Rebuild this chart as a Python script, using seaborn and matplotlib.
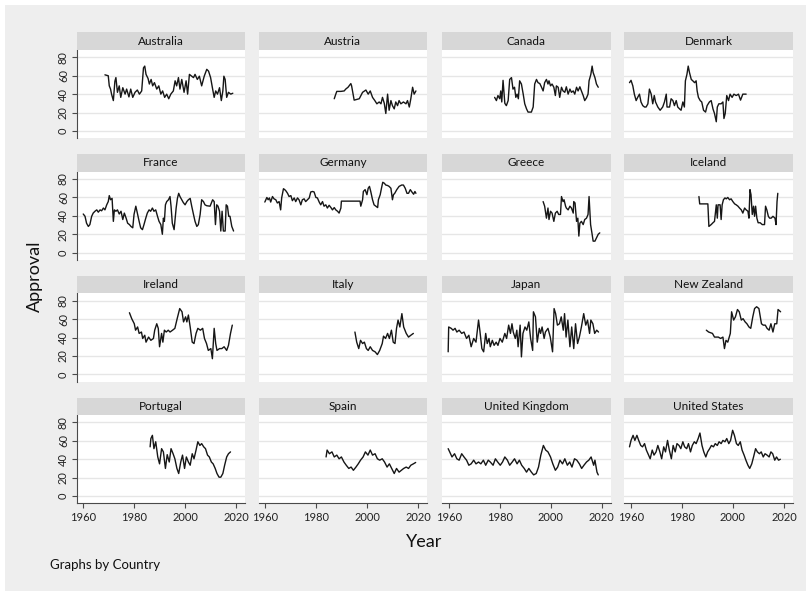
import matplotlib
matplotlib.use("Agg")
import matplotlib.pyplot as plt
import pandas as pd
import seaborn as sns
from matplotlib.patches import Rectangle

COUNTRIES = ["Australia", "Austria", "Canada", "Denmark",
             "France", "Germany", "Greece", "Iceland",
             "Ireland", "Italy", "Japan", "New Zealand",
             "Portugal", "Spain", "United Kingdom", "United States"]

X_TICKS = [1960, 1980, 2000, 2020]
Y_TICKS = [0, 20, 40, 60, 80]

AUS_YEAR = [1968.6, 1969.9, 1970.3, 1970.8, 1971.2, 1971.9, 1972.5, 1972.9, 1973.5, 1974.2,
            1974.8, 1975.6, 1976.5, 1977.1, 1978.0, 1978.7, 1979.5, 1980.4, 1981.3, 1982.1,
            1983.0, 1983.7, 1984.2, 1984.7, 1985.5, 1986.0, 1986.7, 1987.3, 1988.0, 1988.9,
            1989.7, 1990.5, 1991.2, 1992.0, 1992.8, 1993.6, 1994.4, 1995.4, 1996.1, 1996.7,
            1997.4, 1998.0, 1998.7, 1999.6, 2000.4, 2001.0, 2001.7, 2002.6, 2003.3, 2003.9,
            2004.8, 2005.6, 2006.5, 2007.5, 2008.5, 2009.2, 2010.0, 2010.8, 2011.4, 2012.0,
            2012.7, 2013.5, 2014.2, 2014.8, 2015.2, 2015.7, 2016.3, 2017.0, 2017.9, 2018.7]
AUS_VAL = [61, 60, 49, 45.5, 40, 33, 54, 58, 42, 49,
           36.5, 47, 40, 45.5, 37, 45.5, 36.5, 42, 44.5, 40,
           43.5, 68.5, 70.5, 61.5, 57, 51, 56, 49, 52.5, 45.5,
           49, 40, 43.5, 36.5, 40, 35, 40, 43.5, 54.5, 49,
           58, 45.5, 56, 42, 54.5, 40, 61.5, 59.5, 58, 61.5,
           56, 59.5, 49, 59.5, 67, 65, 58, 45.5, 36.5, 43.5,
           40, 47, 33, 43.5, 59.5, 56, 36.5, 42, 40, 41]

AUT_YEAR = [1987.1, 1987.7, 1988.1, 1989.7, 1991.0, 1991.6, 1992.5, 1993.6, 1993.9, 1994.9,
            1996.9, 1998.2, 1999.5, 2000.4, 2001.2, 2002.1, 2003.0, 2003.8, 2004.7, 2005.4,
            2006.0, 2006.7, 2007.3, 2008.0, 2008.6, 2009.3, 2009.9, 2010.6, 2011.2, 2011.9,
            2012.5, 2013.2, 2014.2, 2015.2, 2015.8, 2016.5, 2017.1, 2017.8, 2018.4, 2019.1]
AUT_VAL = [35, 40, 43, 43, 43.5, 45.5, 47.5, 51.5, 49, 33.5,
           35, 42, 44.5, 40, 43.5, 36.5, 33, 29.5, 31.5, 29.5,
           36.5, 30, 19, 40, 22.5, 33, 27.5, 24, 31.5, 27.5,
           33, 29.5, 31.5, 29.5, 33, 26, 35, 47.5, 40, 43.5]

CAN_YEAR = [1978.0, 1978.7, 1979.3, 1980.0, 1980.4, 1980.8, 1981.3, 1982.0, 1982.6, 1983.3,
            1983.9, 1984.6, 1985.2, 1985.8, 1986.3, 1986.8, 1987.3, 1987.8, 1988.5, 1989.2,
            1989.8, 1990.5, 1991.1, 1992.4, 1993.1, 1993.7, 1994.4, 1995.0, 1995.7, 1996.3,
            1997.0, 1997.6, 1998.3, 1998.9, 1999.3, 1999.9, 2000.5, 2001.2, 2001.8, 2002.2,
            2002.9, 2003.5, 2004.2, 2004.8, 2005.5, 2006.1, 2006.8, 2007.5, 2008.1, 2008.8,
            2009.4, 2010.1, 2010.7, 2011.4, 2012.0, 2012.7, 2013.3, 2014.0, 2014.6, 2015.0,
            2015.7, 2016.2, 2016.6, 2017.3, 2017.9, 2018.6]
CAN_VAL = [36.5, 33, 38.5, 35, 43.5, 31.5, 55, 30, 27.5, 33,
           56, 58, 45.5, 47.5, 36.5, 40, 35, 54.5, 51, 40,
           29.5, 24, 20.5, 20.5, 26, 51, 56, 52.5, 51.5, 48,
           43.5, 52.5, 56, 51, 54.5, 49, 51, 47.5, 38.5, 49,
           47.5, 36.5, 47.5, 43.5, 42, 48, 40, 45.5, 42, 43.5,
           40, 47.5, 43.5, 48, 43.5, 38.5, 33, 36, 40, 54.5,
           61.5, 70.5, 63.5, 58, 51, 47.5]

DNK_YEAR = [1959.5, 1960.1, 1960.8, 1961.4, 1962.1, 1962.7, 1963.4, 1964.0, 1964.7, 1965.4,
            1966.0, 1966.7, 1967.3, 1968.0, 1968.6, 1969.2, 1969.7, 1970.6, 1971.5, 1972.5,
            1973.2, 1973.9, 1974.2, 1975.2, 1975.8, 1976.5, 1977.1, 1977.8, 1978.4, 1979.1,
            1979.7, 1980.4, 1981.0, 1981.4, 1982.0, 1982.5, 1983.0, 1983.7, 1984.3, 1985.0,
            1985.6, 1986.0, 1986.5, 1987.2, 1987.8, 1988.5, 1989.3, 1989.9, 1990.8, 1991.5,
            1992.2, 1992.8, 1993.5, 1993.9, 1994.5, 1995.4, 1996.1, 1996.5, 1997.0, 1997.6,
            1998.3, 1998.9, 1999.7, 2000.4, 2001.3, 2002.2, 2003.0, 2003.9, 2005.2]
DNK_VAL = [52.5, 55, 49, 40, 33, 36.5, 40, 31.5, 27.5, 26,
           26, 29.5, 45.5, 40, 29.5, 38.5, 31.5, 26, 22.5, 26,
           31.5, 40, 26, 26, 35, 33, 27.5, 33, 26, 24,
           22.5, 31.5, 26, 54.5, 61.5, 70.5, 63.5, 56, 54.5, 52.5,
           54.5, 43.5, 36.5, 33, 31.5, 22.5, 20.5, 27.5, 31.5, 33,
           24, 19, 10, 26, 29.5, 29.5, 31.5, 13.5, 19, 38.5,
           33, 40, 36.5, 40, 38.5, 40, 33.5, 40, 40]

FRA_YEAR = [1960.1, 1960.8, 1961.4, 1962.1, 1962.7, 1963.4, 1964.0, 1964.7, 1965.4, 1966.0,
            1966.7, 1967.3, 1968.0, 1968.6, 1969.3, 1969.9, 1970.3, 1970.8, 1971.4, 1971.9,
            1972.3, 1972.9, 1973.5, 1974.2, 1974.9, 1975.6, 1976.2, 1976.9, 1977.5, 1978.2,
            1978.8, 1979.5, 1980.0, 1980.7, 1981.3, 1982.0, 1982.6, 1983.3, 1983.9, 1984.6,
            1985.2, 1985.9, 1986.5, 1987.2, 1987.8, 1988.5, 1989.2, 1989.8, 1990.5, 1991.1,
            1991.5, 1991.9, 1992.3, 1992.8, 1993.5, 1994.1, 1994.5, 1995.0, 1995.7, 1996.5,
            1997.0, 1997.5, 1998.0, 1998.7, 1999.3, 2000.0, 2000.7, 2001.3, 2002.0, 2002.6,
            2003.3, 2003.9, 2004.6, 2005.2, 2005.9, 2006.5, 2007.2, 2007.8, 2008.5, 2009.8,
            2010.8, 2011.4, 2011.9, 2012.4, 2012.9, 2013.5, 2014.0, 2014.5, 2015.0, 2015.7,
            2016.1, 2016.6, 2017.1, 2017.6, 2018.3, 2019.0]
FRA_VAL = [42, 39.5, 32, 28.5, 30.5, 39.5, 43, 45, 46.5, 44,
           46.5, 45.5, 48.5, 46.5, 52, 55.5, 62, 57.5, 59, 34,
           46.5, 45, 46.5, 42, 45, 36, 43, 37.5, 32, 30.5,
           28.5, 27, 41.5, 50.5, 43, 34, 27, 25, 30.5, 37.5,
           43, 46.5, 45, 48.5, 45, 46.5, 39.5, 34, 30.5, 20,
           37.5, 34, 52, 55.5, 57.5, 61, 50.5, 32, 25, 48.5,
           59, 64.5, 61, 57.5, 54.5, 52, 55.5, 57.5, 59, 50.5,
           41.5, 34, 28.5, 30.5, 41.5, 57.5, 55.5, 52, 51, 50.5,
           57.5, 55.5, 30.5, 52, 50.5, 45, 23.5, 45, 23.5, 23.5,
           52, 50.5, 39.5, 39.5, 28.5, 23.5]

GER_YEAR = [1959.9, 1960.7, 1961.2, 1961.7, 1962.2, 1962.9, 1963.5, 1964.2, 1964.8, 1965.5,
            1966.1, 1966.5, 1967.2, 1967.7, 1968.2, 1968.8, 1969.4, 1970.1, 1970.7, 1971.4,
            1972.0, 1972.7, 1973.3, 1974.0, 1974.6, 1975.3, 1975.9, 1976.6, 1977.3, 1977.9,
            1978.6, 1979.2, 1979.9, 1980.5, 1981.2, 1981.8, 1982.5, 1983.1, 1983.8, 1984.4,
            1985.1, 1985.8, 1986.4, 1987.1, 1987.7, 1988.4, 1989.0, 1989.7, 1989.9, 1997.2,
            1997.5, 1998.2, 1998.5, 1999.2, 1999.9, 2000.4, 2000.9, 2001.4, 2002.1, 2002.7,
            2003.4, 2004.1, 2004.4, 2005.1, 2005.6, 2006.1, 2006.7, 2007.3, 2008.0, 2008.6,
            2009.3, 2009.9, 2010.3, 2010.8, 2011.6, 2012.5, 2013.5, 2014.2, 2014.9, 2015.6,
            2016.2, 2016.9, 2017.5, 2018.2, 2018.7, 2019.1]
GER_VAL = [55, 60, 57.5, 59.5, 55, 61, 58.5, 57.5, 54, 55.5,
           46.5, 59.5, 69.5, 68.5, 67, 64.5, 61, 62, 56.5, 59.5,
           55.5, 59.5, 57.5, 52, 57.5, 58.5, 55.5, 57.5, 59.5, 66,
           66.5, 66, 60, 59.5, 55, 52, 55.5, 50.5, 52, 48.5,
           51.5, 49, 46.5, 49, 46.5, 45, 43, 48.5, 56, 56,
           50.5, 57.5, 66.5, 68.5, 63, 70, 72, 66.5, 57.5, 52,
           50.5, 49, 57.5, 63, 70, 76.5, 75.5, 73.5, 73, 72,
           70, 57.5, 63, 64.5, 68.5, 72, 73.5, 73.5, 70, 64.5,
           64.5, 68.5, 66, 63.5, 66.5, 64.5]

GRC_YEAR = [1997.0, 1997.6, 1998.3, 1998.9, 1999.3, 1999.9, 2000.5, 2001.2, 2001.8, 2002.5,
            2003.1, 2003.8, 2004.2, 2004.8, 2005.2, 2005.8, 2006.1, 2006.8, 2007.5, 2008.1,
            2008.8, 2009.0, 2009.5, 2010.1, 2010.6, 2011.0, 2011.4, 2012.0, 2012.7, 2013.3,
            2014.0, 2014.6, 2015.0, 2015.6, 2016.2, 2016.6, 2017.3, 2017.9, 2018.6, 2019.2]
GRC_VAL = [55.5, 50.5, 37.5, 48.5, 36, 45, 43, 34, 43, 45,
           41.5, 41.5, 61, 55.5, 57.5, 50.5, 48.5, 46.5, 50.5, 48.5,
           43, 55.5, 54, 34, 37.5, 18, 32, 34, 30.5, 36,
           37.5, 41.5, 61, 30.5, 20, 12.5, 12.5, 16, 20, 21.5]

ISL_YEAR = [1986.7, 1987.0, 1990.2, 1990.6, 1991.5, 1992.2, 1992.8, 1993.5, 1993.9, 1994.2,
            1995.0, 1995.4, 1995.8, 1996.3, 1996.9, 1997.4, 1998.0, 1998.7, 1999.3, 2000.0,
            2000.7, 2001.3, 2002.0, 2002.6, 2003.3, 2003.9, 2004.6, 2005.2, 2005.9, 2006.3,
            2006.7, 2007.1, 2007.6, 2008.1, 2008.5, 2008.9, 2009.4, 2009.9, 2010.7, 2011.5,
            2012.4, 2012.8, 2013.3, 2013.9, 2014.4, 2015.0, 2015.7, 2016.5, 2016.9, 2017.3,
            2017.6]
ISL_VAL = [61, 53, 53, 28.5, 30.5, 32.5, 34, 52, 37.5, 52,
           52, 36, 52, 57.5, 59.5, 58.5, 60, 57.5, 58.5, 55.5,
           53, 52, 50.5, 48.5, 46.5, 43, 48.5, 46.5, 45, 37.5,
           68.5, 63, 41.5, 50.5, 39.5, 50.5, 37.5, 32.5, 32.5, 30.5,
           30.5, 50.5, 46.5, 39.5, 37.5, 37.5, 39.5, 37.5, 30.5, 55.5,
           64.5]

IRL_YEAR = [1978.2, 1979.1, 1980.1, 1980.6, 1981.4, 1982.0, 1982.9, 1983.4, 1984.2, 1984.7,
            1985.7, 1986.6, 1987.6, 1988.1, 1988.9, 1989.5, 1990.0, 1990.8, 1991.3, 1991.9,
            1992.6, 1993.4, 1994.1, 1995.1, 1996.0, 1996.9, 1997.9, 1998.8, 1999.4, 2000.2,
            2000.7, 2001.3, 2002.0, 2002.8, 2003.5, 2004.3, 2005.0, 2006.0, 2006.9, 2007.6,
            2008.4, 2009.1, 2010.1, 2010.7, 2011.4, 2012.0, 2012.5, 2013.5, 2014.4, 2015.3,
            2016.3, 2017.0, 2017.8, 2018.5]
IRL_VAL = [67, 60.5, 55, 48, 51.5, 44.5, 46, 39, 42.5, 35,
           40.5, 37, 39, 48, 55, 50, 30, 44.5, 35, 48,
           46, 48, 46, 48, 50, 60.5, 71.5, 68, 57, 62.5,
           57, 64.5, 51.5, 35, 33.5, 44.5, 50, 48, 50, 39,
           33.5, 26, 28, 17, 50, 33.5, 26, 28, 28, 30,
           26, 31.5, 44.5, 53.5]

ITA_YEAR = [1995.2, 1995.9, 1996.7, 1997.4, 1998.2, 1998.9, 1999.7, 2000.4, 2001.2, 2002.1,
            2003.1, 2004.0, 2004.9, 2005.9, 2006.4, 2007.2, 2008.0, 2008.7, 2009.5, 2010.2,
            2010.9, 2011.5, 2012.1, 2012.8, 2013.6, 2014.3, 2015.3, 2016.2, 2017.1, 2018.1]
ITA_VAL = [46, 35, 28, 37, 33.5, 35, 28, 26, 30, 26,
           24.5, 21.5, 26, 33.5, 41.5, 39, 44.5, 39, 48, 35,
           33.5, 50, 59, 51.5, 66, 51.5, 44.5, 40.5, 42.5, 44.5]

JPN_YEAR = [1959.8, 1960.0, 1961.0, 1961.7, 1962.5, 1963.2, 1964.1, 1965.1, 1966.0, 1967.0,
            1967.9, 1968.8, 1969.8, 1970.7, 1971.7, 1972.2, 1973.0, 1973.7, 1974.5, 1975.1,
            1975.8, 1976.3, 1977.1, 1977.8, 1978.6, 1979.3, 1980.1, 1981.0, 1982.0, 1982.7,
            1983.5, 1984.2, 1984.8, 1985.3, 1986.1, 1986.7, 1987.2, 1988.0, 1988.5, 1989.1,
            1989.9, 1990.6, 1991.4, 1992.1, 1992.9, 1993.2, 1994.0, 1994.7, 1995.5, 1996.0,
            1996.6, 1997.4, 1997.9, 1998.9, 1999.8, 2000.7, 2001.3, 2001.9, 2002.6, 2003.4,
            2004.1, 2004.9, 2005.4, 2006.0, 2006.7, 2007.5, 2008.2, 2009.0, 2009.7, 2010.5,
            2011.2, 2012.0, 2012.9, 2013.7, 2014.4, 2015.2, 2015.7, 2016.5, 2017.2, 2018.0,
            2018.7]
JPN_VAL = [24.5, 51.5, 50, 48, 50, 46, 48, 44.5, 46, 39,
           42.5, 30, 39, 35, 59, 48, 28, 24.5, 44.5, 33.5,
           39, 30, 37, 31.5, 35, 31.5, 39, 35, 44.5, 39,
           53.5, 44.5, 55, 46, 39, 48, 30, 53.5, 19, 44.5,
           51.5, 48, 57, 39, 26, 68, 62.5, 35, 50, 44.5,
           51.5, 39, 46, 50, 40.5, 24.5, 71.5, 66, 53.5, 55,
           62.5, 48, 66, 40.5, 59, 30, 51.5, 28, 55, 33.5,
           40.5, 51.5, 66, 53.5, 59, 44.5, 59, 55, 44.5, 48,
           46]

NZL_YEAR = [1989.6, 1990.5, 1992.0, 1992.8, 1994.3, 1995.2, 1996.1, 1996.7, 1997.3, 1998.0,
            1999.0, 1999.5, 2000.3, 2001.0, 2001.8, 2002.5, 2003.3, 2004.0, 2004.8, 2005.5,
            2006.3, 2007.0, 2007.8, 2008.5, 2009.3, 2010.2, 2011.2, 2011.9, 2012.7, 2013.4,
            2014.2, 2014.9, 2015.7, 2016.4, 2017.2, 2017.7, 2018.7]
NZL_VAL = [48, 46, 44.5, 40.5, 40.5, 39, 40.5, 28, 37, 35,
           44.5, 68, 59, 62.5, 70.5, 68, 59, 60.5, 57, 55,
           51.5, 50, 62.5, 71.5, 73.5, 71.5, 55, 53.5, 53.5, 50,
           48, 55, 46, 55, 55, 70.5, 68]

PRT_YEAR = [1986.3, 1986.6, 1987.2, 1987.8, 1988.5, 1989.3, 1990.0, 1990.8, 1991.5, 1992.3,
            1993.0, 1993.8, 1994.5, 1995.3, 1996.0, 1996.8, 1997.5, 1998.3, 1999.0, 1999.8,
            2000.5, 2001.3, 2002.0, 2002.8, 2003.5, 2004.3, 2005.0, 2005.8, 2006.5, 2007.3,
            2008.0, 2008.8, 2009.5, 2010.3, 2011.0, 2011.8, 2012.5, 2013.3, 2014.0, 2014.8,
            2015.5, 2016.3, 2017.0, 2017.8]
PRT_VAL = [53.5, 62.5, 66, 51.5, 59, 42.5, 35, 51.5, 48, 30,
           45, 37, 51.5, 46, 40.5, 30, 24.5, 37, 44.5, 30,
           42.5, 37, 33.5, 46, 40.5, 50, 59, 55, 57, 53.5,
           51.5, 44.5, 42.5, 37, 35, 30, 24.5, 20.5, 20.5, 24.5,
           33.5, 42.5, 46, 48]

ESP_YEAR = [1983.9, 1984.3, 1985.2, 1986.2, 1987.1, 1988.1, 1989.0, 1989.9, 1990.9, 1991.8,
            1992.8, 1993.7, 1994.6, 1995.6, 1996.5, 1997.4, 1998.4, 1999.3, 2000.3, 2001.2,
            2002.1, 2003.1, 2004.0, 2004.9, 2005.9, 2006.8, 2007.8, 2008.7, 2009.6, 2010.6,
            2011.5, 2012.5, 2013.4, 2014.3, 2015.3, 2016.2, 2017.1, 2018.1, 2019.0]
ESP_VAL = [42.5, 50, 46, 48, 42.5, 44.5, 40.5, 42.5, 37, 33.5,
           30, 31.5, 28, 31.5, 35, 39, 42.5, 48, 44.5, 50,
           44.5, 46, 40.5, 39, 40.5, 37, 31.5, 35, 30, 24.5,
           30, 26, 28, 30, 31.5, 30, 33.5, 35, 36.5]

GBR_YEAR = [1959.8, 1960.4, 1961.3, 1962.3, 1963.2, 1964.1, 1965.1, 1966.0, 1967.0, 1967.9,
            1968.8, 1969.8, 1970.7, 1971.7, 1972.6, 1973.6, 1974.5, 1975.5, 1976.3, 1977.4,
            1978.3, 1979.2, 1980.2, 1981.1, 1982.0, 1983.0, 1983.9, 1984.9, 1985.8, 1986.8,
            1987.7, 1988.6, 1989.6, 1990.5, 1991.4, 1992.4, 1993.3, 1994.3, 1995.2, 1996.1,
            1997.1, 1998.0, 1998.9, 1999.9, 2000.8, 2001.8, 2002.7, 2003.6, 2004.6, 2005.5,
            2006.5, 2007.4, 2008.3, 2009.3, 2010.2, 2011.2, 2012.1, 2013.0, 2014.0, 2014.9,
            2015.8, 2016.8, 2017.3, 2018.1, 2018.6]
GBR_VAL = [51.5, 48, 42.5, 46, 40.5, 39, 46, 42.5, 39, 33.5,
           35, 39, 35, 37, 35, 39, 33.5, 39, 37, 33.5,
           40.5, 37, 33.5, 37, 42.5, 39, 33.5, 37, 40.5, 35,
           39, 33.5, 30, 26, 30, 26, 23, 24.5, 31.5, 44.5,
           55, 50, 48, 42.5, 35, 28, 31.5, 39, 35, 40.5,
           33.5, 37, 31.5, 40.5, 39, 35, 30, 33.5, 37, 39,
           42.5, 33.5, 39, 26, 23]

USA_YEAR = [1959.5, 1960.1, 1960.9, 1961.6, 1962.4, 1963.1, 1963.9, 1964.6, 1965.4, 1966.1,
            1966.9, 1967.6, 1968.4, 1969.1, 1969.9, 1970.6, 1971.4, 1972.1, 1972.9, 1973.6,
            1974.4, 1975.1, 1975.9, 1976.6, 1977.4, 1978.1, 1978.9, 1979.6, 1980.4, 1981.1,
            1981.9, 1982.6, 1983.4, 1984.1, 1984.9, 1985.6, 1986.4, 1987.1, 1987.9, 1988.6,
            1989.4, 1990.1, 1990.9, 1991.6, 1992.4, 1993.1, 1993.9, 1994.6, 1995.4, 1996.1,
            1996.9, 1997.6, 1998.4, 1999.1, 1999.9, 2000.6, 2001.4, 2002.1, 2002.9, 2003.6,
            2004.4, 2005.1, 2005.9, 2006.6, 2007.4, 2008.1, 2008.9, 2009.6, 2010.4, 2011.1,
            2011.9, 2012.6, 2013.4, 2014.2, 2014.9, 2015.6, 2016.4, 2017.1, 2017.9, 2018.6]
USA_VAL = [53.5, 60.5, 66, 60.5, 66, 60.5, 55, 53.5, 57, 50,
           45, 40.5, 50, 44.5, 48, 55, 48, 40.5, 53.5, 48,
           60.5, 50, 40.5, 55, 48, 57, 55, 51.5, 59, 53.5,
           51.5, 57, 48, 55, 59, 57, 62.5, 68.5, 55, 48,
           42.5, 48, 51.5, 55, 53.5, 57, 55, 59, 57, 60.5,
           59, 62.5, 57, 60.5, 71.5, 66, 57, 55, 59, 50,
           44.5, 39, 33.5, 30, 35, 42.5, 51.5, 48, 46, 48,
           42.5, 46, 44.5, 42.5, 48, 46, 39, 42.5, 39, 40]

SERIES = {
    "Australia": (AUS_YEAR, AUS_VAL), "Austria": (AUT_YEAR, AUT_VAL),
    "Canada": (CAN_YEAR, CAN_VAL), "Denmark": (DNK_YEAR, DNK_VAL),
    "France": (FRA_YEAR, FRA_VAL), "Germany": (GER_YEAR, GER_VAL),
    "Greece": (GRC_YEAR, GRC_VAL), "Iceland": (ISL_YEAR, ISL_VAL),
    "Ireland": (IRL_YEAR, IRL_VAL), "Italy": (ITA_YEAR, ITA_VAL),
    "Japan": (JPN_YEAR, JPN_VAL), "New Zealand": (NZL_YEAR, NZL_VAL),
    "Portugal": (PRT_YEAR, PRT_VAL), "Spain": (ESP_YEAR, ESP_VAL),
    "United Kingdom": (GBR_YEAR, GBR_VAL), "United States": (USA_YEAR, USA_VAL),
}

records = []
for country in COUNTRIES:
    years, values = SERIES[country]
    for yr, val in zip(years, values, strict=True):
        records.append((country, yr, val))
df = pd.DataFrame(records, columns=["Country", "Year", "Approval"])

sns.set_theme(style="white")
plt.rcParams["font.family"] = ["Lato", "DejaVu Sans"]

W, H = 811, 593
g = sns.relplot(data=df, x="Year", y="Approval", col="Country", col_order=COUNTRIES,
                col_wrap=4, kind="line", estimator=None, sort=False,
                color="#161616", linewidth=1.0, height=2, aspect=1.4,
                facet_kws=dict(sharex=True, sharey=True, despine=False))
fig = g.figure
fig.set_size_inches(W / 100, H / 100)
fig.set_dpi(100)
fig.patch.set_facecolor("white")
fig.add_artist(Rectangle((5 / W, 2 / H), 801 / W, 586 / H, transform=fig.transFigure,
                         facecolor="#eeeeee", edgecolor="none", zorder=-10))

col_left = [76.6, 258.7, 442.3, 624.4]
panel_w = 168.2
row_top = [50.0, 171.7, 293.4, 415.1]
panel_h = 88.3
strip_h = 17.5
axis_col = "#4a4a4a"

for idx, (ax, country) in enumerate(zip(g.axes.flat, COUNTRIES)):
    r, c = divmod(idx, 4)
    left = col_left[c] / W
    bottom = 1 - (row_top[r] + panel_h) / H
    ax.set_position([left, bottom, panel_w / W, panel_h / H])
    ax.set_facecolor("white")
    ax.set_xlim(1957.5, 2023.4)
    ax.set_ylim(-8, 88)
    ax.set_xticks(X_TICKS)
    ax.set_yticks(Y_TICKS)
    ax.set_title("")
    ax.set_xlabel("")
    ax.set_ylabel("")
    ax.grid(axis="y", color="#e6e6e6", linewidth=1.0)
    ax.grid(axis="x", visible=False)
    ax.set_axisbelow(True)
    for side in ("top", "right", "left", "bottom"):
        ax.spines[side].set_visible(False)
    if c == 0:
        ax.spines["left"].set_visible(True)
        ax.spines["left"].set_color(axis_col)
        ax.spines["left"].set_linewidth(0.8)
    if r == 3:
        ax.spines["bottom"].set_visible(True)
        ax.spines["bottom"].set_color(axis_col)
        ax.spines["bottom"].set_linewidth(0.8)
    ax.tick_params(axis="y", left=(c == 0), labelleft=(c == 0), length=3.5, width=0.8,
                   color=axis_col, labelsize=8, labelcolor="#222222", pad=2,
                   labelrotation=90)
    ax.tick_params(axis="x", bottom=(r == 3), labelbottom=(r == 3), length=3.5,
                   width=0.8, color=axis_col, labelsize=8, labelcolor="#222222", pad=3)
    for lab in ax.get_yticklabels():
        lab.set_va("center")
    # facet header strip
    strip_bottom = 1 - row_top[r] / H
    fig.add_artist(Rectangle((left, strip_bottom), panel_w / W, strip_h / H,
                             transform=fig.transFigure, facecolor="#d7d7d7",
                             edgecolor="none", zorder=1))
    fig.text(left + panel_w / W / 2, strip_bottom + strip_h / H / 2, country,
             ha="center", va="center", fontsize=8.5, color="#111111")

fig.text(35 / W, 1 - 276 / H, "Approval", rotation=90, ha="center", va="center",
         fontsize=13, color="#111111")
fig.text(424 / W, 1 - 542 / H, "Year", ha="center", va="center", fontsize=13,
         color="#111111")
fig.text(50 / W, 1 - 565 / H, "Graphs by Country", ha="left", va="center",
         fontsize=9.5, color="#111111")

fig.savefig("out.png", dpi=100, facecolor=fig.get_facecolor())
